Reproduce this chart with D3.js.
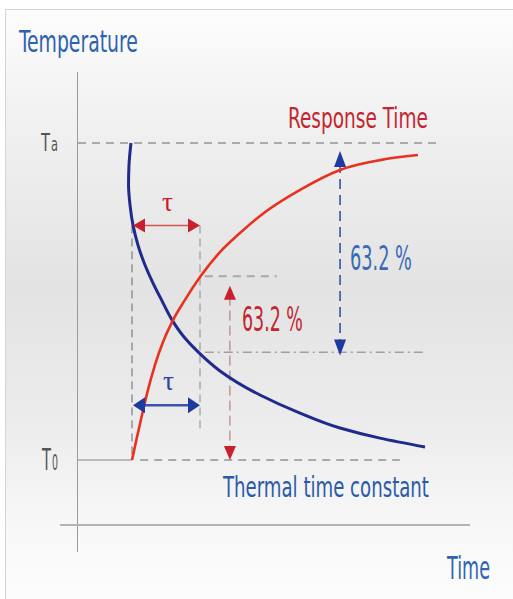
<!DOCTYPE html>
<html>
<head>
<meta charset="utf-8">
<script src="https://cdn.jsdelivr.net/npm/d3@7"></script>
<style>
  html, body { margin: 0; padding: 0; background: #ffffff; }
  svg { display: block; }
  text { font-family: "DejaVu Sans Condensed", "Open Sans", "Noto Sans", sans-serif; }
</style>
</head>
<body>
<svg id="chart" width="513" height="599"></svg>
<script>
// ---------------- data (time in units of tau, temperature as fraction of Ta - T0) ----------------
const responseTime = [0, 0.074, 0.147, 0.235, 0.338, 0.456, 0.588, 0.779, 1.0, 1.294, 1.588, 1.882, 2.471, 3.059, 3.647, 4.206];
const responseTemp = [0, 0.073, 0.142, 0.221, 0.300, 0.372, 0.435, 0.505, 0.577, 0.656, 0.716, 0.770, 0.852, 0.915, 0.946, 0.962];

const constantTime = [-0.015, -0.044, -0.051, -0.029, 0.015, 0.088, 0.191, 0.309, 0.441, 0.588, 0.765, 0.971, 1.294, 1.882, 2.471, 3.059, 3.647, 4.309];
const constantTemp = [1.0, 0.931, 0.868, 0.804, 0.741, 0.678, 0.615, 0.558, 0.502, 0.442, 0.388, 0.341, 0.281, 0.205, 0.148, 0.101, 0.069, 0.041];

const levelNames = ["T", "T"];
const levelSubs = ["a", "0"];
const levelValues = [1, 0];
const tau = 1;
const responseLevel = 0.58;   // 63.2 % rise marker
const constantLevel = 0.34;   // 63.2 % fall marker
const percentLabel = "63.2 %";
const tauLabel = "τ";
const titles = ["Temperature", "Time", "Response Time", "Thermal time constant"];

// ---------------- scales ----------------
const x = d3.scaleLinear().domain([0, tau]).range([132, 200]);
const y = d3.scaleLinear().domain([0, 1]).range([460, 143]);

const svg = d3.select("#chart");
const defs = svg.append("defs");
const grad = defs.append("linearGradient").attr("id", "bg").attr("x1", 0).attr("y1", 0).attr("x2", 0).attr("y2", 1);
[[0, "#fdfdfd"], [0.15, "#f3f3f3"], [0.47, "#e3e3e3"], [0.7, "#ececec"], [0.88, "#f8f8f8"], [1, "#fcfcfc"]]
  .forEach(([o, c]) => grad.append("stop").attr("offset", o).attr("stop-color", c));

// background panel
svg.append("rect").attr("x", 5).attr("y", 9).attr("width", 508).attr("height", 590).attr("fill", "url(#bg)");
svg.append("line").attr("x1", 5).attr("x2", 513).attr("y1", 9.5).attr("y2", 9.5).attr("stroke", "#d4d4d4");
svg.append("line").attr("x1", 5.5).attr("x2", 5.5).attr("y1", 9).attr("y2", 599).attr("stroke", "#d4d4d4");

// axes
svg.append("line").attr("x1", 77.5).attr("x2", 77.5).attr("y1", 72).attr("y2", 552).attr("stroke", "#9a9a9a").attr("stroke-width", 1);
svg.append("line").attr("x1", 60).attr("x2", 470).attr("y1", 525).attr("y2", 525).attr("stroke", "#b4b4b4").attr("stroke-width", 2);

// Ta / T0 reference lines
svg.append("line").attr("x1", 78).attr("x2", x(4.53)).attr("y1", y(levelValues[0])).attr("y2", y(levelValues[0]))
  .attr("stroke", "#aaaaaa").attr("stroke-width", 2).attr("stroke-dasharray", "8,6");
svg.append("line").attr("x1", 78).attr("x2", x(0)).attr("y1", y(levelValues[1])).attr("y2", y(levelValues[1]))
  .attr("stroke", "#aaaaaa").attr("stroke-width", 1.5);
svg.append("line").attr("x1", x(0.12)).attr("x2", x(3.94)).attr("y1", y(levelValues[1])).attr("y2", y(levelValues[1]))
  .attr("stroke", "#aaaaaa").attr("stroke-width", 2).attr("stroke-dasharray", "8,6");

// text helper: measure natural width, then squeeze horizontally to the target width
function fitText(tx, ty, size, len, color, s, family) {
  const t = svg.append("text").attr("font-size", size).attr("fill", color).text(s);
  if (family) t.style("font-family", family);
  const natural = t.node().getComputedTextLength();
  t.attr("transform", `translate(${tx},${ty}) scale(${len / natural},1)`);
  return t;
}

// level labels
fitText(41, y(levelValues[0]) + 8, 25, 9, "#555", levelNames[0]);
fitText(51, y(levelValues[0]) + 8, 19, 7, "#555", levelSubs[0]);
fitText(42, y(levelValues[1]) + 10, 31, 9, "#555", levelNames[1]);
fitText(52, y(levelValues[1]) + 10, 22, 6, "#555", levelSubs[1]);

// guide lines for tau
svg.append("line").attr("x1", x(0)).attr("x2", x(0)).attr("y1", y(0.74)).attr("y2", y(0.01))
  .attr("stroke", "#666").attr("stroke-width", 1).attr("stroke-dasharray", "8,5");
svg.append("line").attr("x1", x(tau)).attr("x2", x(tau)).attr("y1", y(0.74)).attr("y2", y(0.09))
  .attr("stroke", "#8a8a8a").attr("stroke-width", 1).attr("stroke-dasharray", "8,5");

// 63.2 % level lines
svg.append("line").attr("x1", x(1.07)).attr("x2", x(2.13)).attr("y1", y(responseLevel)).attr("y2", y(responseLevel))
  .attr("stroke", "#a8a8a8").attr("stroke-width", 2).attr("stroke-dasharray", "8,6");
svg.append("line").attr("x1", x(1.07)).attr("x2", x(4.28)).attr("y1", y(constantLevel)).attr("y2", y(constantLevel))
  .attr("stroke", "#a0a0a0").attr("stroke-width", 1.5).attr("stroke-dasharray", "9,4,2,4");

// arrow helper
function head(tx, ty, dir, len, half, color) {
  let p;
  if (dir === "left")  p = [[tx, ty], [tx + len, ty - half], [tx + len, ty + half]];
  if (dir === "right") p = [[tx, ty], [tx - len, ty - half], [tx - len, ty + half]];
  if (dir === "up")    p = [[tx, ty], [tx - half, ty + len], [tx + half, ty + len]];
  if (dir === "down")  p = [[tx, ty], [tx - half, ty - len], [tx + half, ty - len]];
  svg.append("path").attr("d", "M" + p.map(d => d.join(",")).join("L") + "Z").attr("fill", color);
}

// vertical 63.2% arrows
svg.append("line").attr("x1", x(1.44)).attr("x2", x(1.44)).attr("y1", y(0.55) + 10).attr("y2", y(0) - 10)
  .attr("stroke", "#b06a6a").attr("stroke-width", 1).attr("stroke-dasharray", "10,5");
head(x(1.44), y(0.55), "up", 14, 6, "#c8202e");
head(x(1.44), y(0), "down", 14, 6, "#c8202e");

svg.append("line").attr("x1", x(3.06)).attr("x2", x(3.06)).attr("y1", y(0.975) + 12).attr("y2", y(0.33) - 12)
  .attr("stroke", "#2a4aa0").attr("stroke-width", 1.5).attr("stroke-dasharray", "10,6");
head(x(3.06), y(0.975), "up", 16, 6, "#1f3a9e");
head(x(3.06), y(0.33), "down", 16, 6, "#1f3a9e");

// curves
const lineX = d3.line().x(d => x(d[0])).y(d => y(d[1])).curve(d3.curveMonotoneX);
const lineY = d3.line().x(d => x(d[0])).y(d => y(d[1])).curve(d3.curveMonotoneY);
svg.append("path").datum(constantTime.map((t, i) => [t, constantTemp[i]]))
  .attr("d", lineY).attr("fill", "none").attr("stroke", "#1f2a8c").attr("stroke-width", 3);
svg.append("path").datum(responseTime.map((t, i) => [t, responseTemp[i]]))
  .attr("d", lineX).attr("fill", "none").attr("stroke", "#e8321f").attr("stroke-width", 2.6);

// tau arrows
svg.append("line").attr("x1", x(0) + 8).attr("x2", x(tau) - 8).attr("y1", y(0.74)).attr("y2", y(0.74))
  .attr("stroke", "#d9534f").attr("stroke-width", 1.5);
head(x(0) + 1, y(0.74), "left", 12, 7, "#c8202e");
head(x(tau), y(0.74), "right", 12, 7, "#c8202e");
svg.append("line").attr("x1", x(0) + 8).attr("x2", x(tau) - 8).attr("y1", y(0.173)).attr("y2", y(0.173))
  .attr("stroke", "#3a55b0").attr("stroke-width", 2.5);
head(x(0) + 1, y(0.173), "left", 12, 8, "#1f3a9e");
head(x(tau), y(0.173), "right", 12, 8, "#1f3a9e");

// tau labels
fitText(162, y(0.74) - 14, 27, 11, "#c8202e", tauLabel, "'Liberation Serif', 'DejaVu Serif', serif");
fitText(163, y(0.173) - 15, 27, 11, "#2a44a0", tauLabel, "'Liberation Serif', 'DejaVu Serif', serif");

// percentage labels
fitText(242, 331, 33, 61, "#c3262f", percentLabel);
fitText(350, 270, 33, 62, "#3a6ab5", percentLabel);

// titles
fitText(19, 52, 31, 119, "#2d62ae", titles[0]);
fitText(447, 579, 32, 43, "#2d66b0", titles[1]);
fitText(288, 128, 28, 140, "#c3262f", titles[2]);
fitText(223, 497, 29, 206, "#2a5aa8", titles[3]);
</script>
</body>
</html>
